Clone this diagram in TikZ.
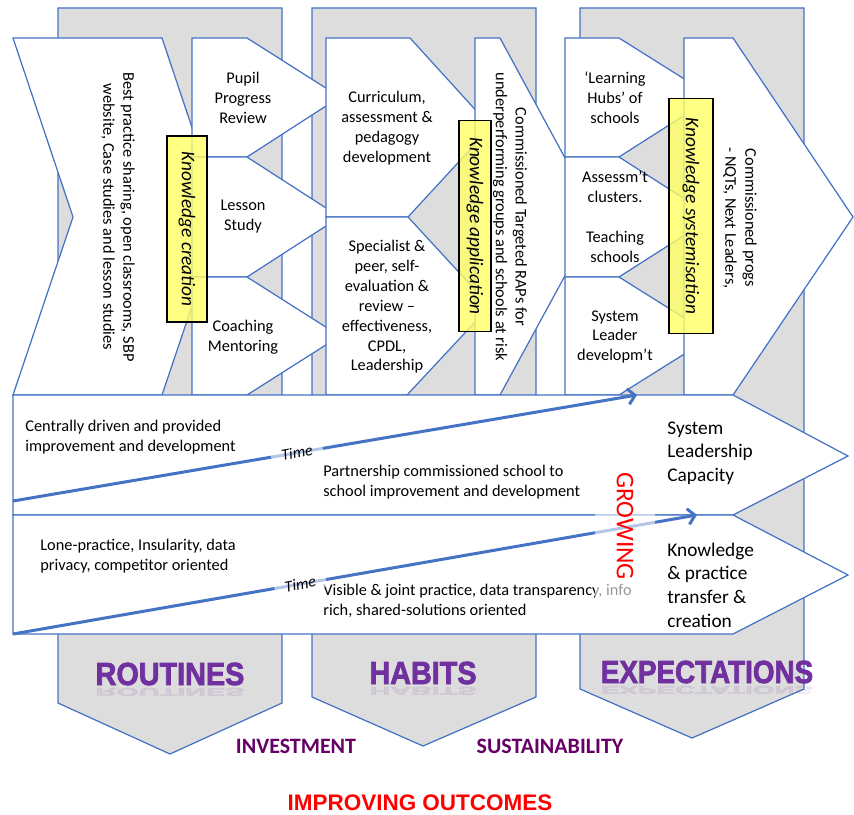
\documentclass[tikz,border=0pt]{standalone}
\usepackage{fontspec}
\setmainfont{Carlito}
\newfontfamily\headfont[BoldFeatures={FakeBold=2.5}]{Liberation Sans}
\newfontfamily\plainhead{Liberation Sans}
\usetikzlibrary{arrows.meta}

\definecolor{outblue}{RGB}{68,114,196}
\definecolor{colgrey}{RGB}{221,221,221}
\definecolor{headpurple}{RGB}{112,48,160}
\definecolor{darkplum}{RGB}{102,0,102}
\definecolor{notebg}{RGB}{255,255,102}

\tikzset{
  column/.style={draw=outblue, fill=colgrey, line width=0.7pt},
  panel/.style={draw=outblue, fill=white, line width=0.7pt, line join=miter},
  boxtext/.style={font=\fontsize{9.3}{11.3}\selectfont, align=center, inner sep=0pt},
  sidetext/.style={boxtext, rotate=-90},
  lefttext/.style={boxtext, align=left, anchor=west},
  bigtext/.style={font=\fontsize{11}{13.5}\selectfont, align=left, anchor=west, inner sep=0pt},
  notebox/.style={draw=black, line width=0.8pt, fill=notebg, fill opacity=0.8, text opacity=1,
    rotate=-90, font=\fontsize{11}{13}\selectfont\itshape, inner sep=0pt},
  timearrow/.style={draw=outblue, line width=1.7pt, -{Straight Barb[length=4pt,width=9pt]}},
  timelabel/.style={sloped, fill=white, fill opacity=0.6, text opacity=1,
    font=\fontsize{9}{10}\selectfont\itshape, inner xsep=6pt, inner ysep=1pt},
  heading/.style={font=\headfont\bfseries\fontsize{18.2}{20}\selectfont, text=headpurple, anchor=base, inner sep=0pt},
  headshadow/.style={heading, text opacity=0.1, yscale=-0.35, transform shape},
  sublabel/.style={font=\bfseries\fontsize{12.5}{14}\selectfont, text=darkplum, anchor=base, inner sep=0pt}
}

\begin{document}
\begin{tikzpicture}[x=0.02cm, y=-0.02cm]
  \useasboundingbox (0,0) rectangle (854,814);

  % Grey columns behind
  \draw[column] (58,8) -- (282,8) -- (282,703) -- (170,754) -- (58,703) -- cycle;
  \draw[column] (312,8) -- (536,8) -- (536,697) -- (423,746) -- (312,697) -- cycle;
  \draw[column] (580,8) -- (804,8) -- (804,689) -- (692,738) -- (580,689) -- cycle;

  % Column titles
  \node[headshadow] (routinesr) at (170,688) {\scalebox{0.9}[1]{ROUTINES}};
  \node[headshadow] (habitsr) at (423,687) {\scalebox{0.9}[1]{HABITS}};
  \node[headshadow] (expectr) at (707,686) {\scalebox{0.87}[1]{EXPECTATIONS}};
  \node[heading] (routines) at (170,685) {\scalebox{0.9}[1]{ROUTINES}};
  \node[heading] (habits) at (423,684) {\scalebox{0.9}[1]{HABITS}};
  \node[heading] (expectations) at (707,683) {\scalebox{0.87}[1]{EXPECTATIONS}};

  % Upper chevrons, left to right
  \draw[panel] (13,38) -- (162,38) -- (222,217) -- (162,395) -- (13,395) -- (73,217) -- cycle;
  \draw[panel] (192,38) -- (247,38) -- (340,97) -- (247,157) -- (192,157) -- cycle;
  \draw[panel] (192,157) -- (247,157) -- (340,217) -- (247,277) -- (192,277) -- cycle;
  \draw[panel] (192,277) -- (247,277) -- (340,336) -- (247,395) -- (192,395) -- cycle;
  \draw[panel] (326,38) -- (410,38) -- (491,127) -- (408,217) -- (326,217) -- cycle;
  \draw[panel] (326,217) -- (408,217) -- (490,306) -- (407,395) -- (326,395) -- cycle;
  \draw[panel] (475,38) -- (500,38) -- (597,217) -- (500,395) -- (475,395) -- cycle;
  \draw[panel] (565,38) -- (619,38) -- (713,97) -- (619,157) -- (565,157) -- cycle;
  \draw[panel] (565,157) -- (619,157) -- (713,217) -- (619,277) -- (565,277) -- cycle;
  \draw[panel] (565,277) -- (619,277) -- (713,336) -- (619,395) -- (565,395) -- cycle;
  \draw[panel] (684,38) -- (733,38) -- (853,217) -- (733,395) -- (684,395) -- cycle;

  % Lower arrows
  \draw[panel] (13,395) -- (733,395) -- (848,456) -- (733,515) -- (13,515) -- cycle;
  \draw[panel] (13,515) -- (733,515) -- (848,575) -- (733,634) -- (13,634) -- cycle;

  % Knowledge boxes
  \node[notebox, minimum width=106pt, minimum height=22.7pt] (kcreation) at (187,229) {Knowledge creation};
  \node[notebox, minimum width=120pt, minimum height=18.1pt] (kapplication) at (475,226) {Knowledge application};
  \node[notebox, minimum width=134pt, minimum height=25pt] (ksystem) at (691,216) {Knowledge systemisation};

  % Texts in upper chevrons
  \node[sidetext] (bestpractice) at (118,217) {Best practice sharing, open classrooms, SBP\\website, Case studies and lesson studies};
  \node[boxtext] (pupil) at (243,98) {Pupil\\Progress\\Review};
  \node[boxtext] (lesson) at (243,217) {Lesson\\Study};
  \node[boxtext] (coaching) at (243,337) {Coaching\\Mentoring};
  \node[boxtext] (curriculum) at (387,128) {Curriculum,\\assessment \&\\pedagogy\\development};
  \node[boxtext] (specialist) at (387,307) {Specialist \&\\peer, self-\\evaluation \&\\review –\\effectiveness,\\CPDL,\\Leadership};
  \node[sidetext] (raps) at (510,217) {Commissioned Targeted RAPs for\\underperforming groups and schools at risk};
  \node[boxtext] (hubs) at (615,98) {‘Learning\\Hubs’ of\\schools};
  \node[boxtext] (assess) at (615,187) {Assessm’t\\clusters.};
  \node[boxtext] (teaching) at (615,247) {Teaching\\schools};
  \node[boxtext] (sysleader) at (615,337) {System\\Leader\\developm’t};
  \node[sidetext] (progs) at (740,218) {Commissioned progs\\- NQTs, Next Leaders,};

  % Texts in lower arrows
  \node[lefttext] (central) at (25,437) {Centrally driven and provided\\improvement and development};
  \node[lefttext] (partnership) at (323,482) {Partnership commissioned school to\\school improvement and development};
  \node[bigtext] (syscap) at (667,453) {System\\Leadership\\Capacity};
  \node[lefttext] (lone) at (40,556) {Lone-practice, Insularity, data\\privacy, competitor oriented};
  \node[lefttext] (visible) at (323,601) {Visible \& joint practice, data transparency, info\\rich, shared-solutions oriented};
  \node[bigtext] (kpt) at (667,585) {Knowledge\\\& practice\\transfer \&\\creation};

  % Time arrows
  \coordinate (t1start) at (13,501);
  \coordinate (t1end) at (637,395);
  \coordinate (t2start) at (13,634);
  \coordinate (t2end) at (697,515);
  \draw[timearrow] (t1start) -- node[timelabel, pos=0.455] (time1) {Time} (t1end);
  \draw[timearrow] (t2start) -- node[timelabel, pos=0.42] (time2) {Time} (t2end);

  % Growing
  \node[rotate=-90, fill=white, fill opacity=0.6, text opacity=1, text=red,
    font=\fontsize{14.5}{16}\selectfont, minimum width=84pt, minimum height=34pt, inner sep=0pt]
    (growing) at (625,526) {GROWING};

  % Bottom labels
  \node[sublabel] (investment) at (296,753) {INVESTMENT};
  \node[sublabel] (sustain) at (550,753) {SUSTAINABILITY};
  \node[font=\plainhead\bfseries\fontsize{12.8}{14}\selectfont, text=red, anchor=base, inner sep=0pt]
    (outcomes) at (420,810) {IMPROVING OUTCOMES};
\end{tikzpicture}
\end{document}
